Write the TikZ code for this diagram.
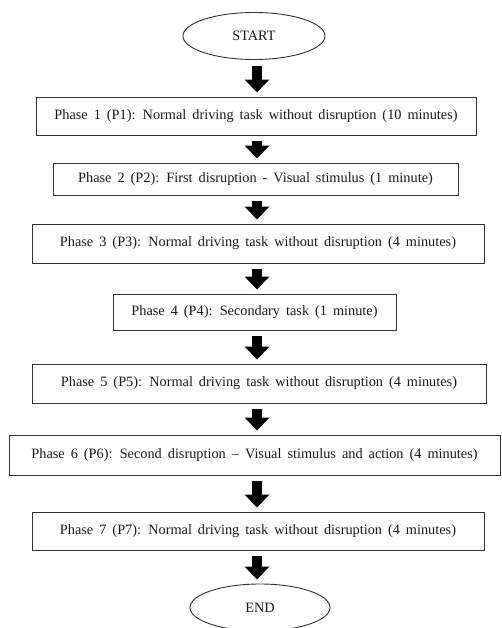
\documentclass[tikz,border=0pt]{standalone}
\usepackage{fontspec}
\setmainfont{Liberation Serif}
\usetikzlibrary{arrows.meta,shapes.geometric}
\newcommand\phasefont{\fontsize{14.3}{17}\selectfont\spaceskip=0.42em plus 0.1em\relax}
\begin{document}
\begin{tikzpicture}[x=1pt,y=-1pt,
  phase/.style={draw=black!80, line width=0.9pt, rectangle, inner sep=0pt, align=center, font=\phasefont, text=black!90},
  term/.style={draw=black!80, line width=0.9pt, ellipse, inner sep=0pt, font=\phasefont, text=black!90},
  blk/.style={line width=10pt, -{Triangle[width=24pt,length=13pt]}, black}
]
\useasboundingbox (0,0) rectangle (501,628);
\coordinate (ax) at (257,0);
\node[term, minimum width=142pt, minimum height=47pt] (start) at (254,36) {START};
\node[phase, minimum width=440pt, minimum height=38pt] (p1) at (256,116) {Phase 1 (P1): Normal driving task without disruption (10 minutes)};
\node[phase, minimum width=405pt, minimum height=32pt] (p2) at (255.5,179) {Phase 2 (P2): First disruption - Visual stimulus (1 minute)};
\node[phase, minimum width=452pt, minimum height=39pt] (p3) at (258,243.5) {Phase 3 (P3): Normal driving task without disruption (4 minutes)};
\node[phase, minimum width=283pt, minimum height=36pt] (p4) at (254.5,312) {Phase 4 (P4): Secondary task (1 minute)};
\node[phase, minimum width=454pt, minimum height=39pt] (p5) at (259,383.5) {Phase 5 (P5): Normal driving task without disruption (4 minutes)};
\node[phase, minimum width=491pt, minimum height=40pt] (p6) at (254.5,455) {Phase 6 (P6): Second disruption -- Visual stimulus and action (4 minutes)};
\node[phase, minimum width=452pt, minimum height=38pt] (p7) at (258,531) {Phase 7 (P7): Normal driving task without disruption (4 minutes)};
\node[term, minimum width=140pt, minimum height=47pt] (end) at (260,607.5) {END};
\foreach \a/\b in {start/p1,p1/p2,p2/p3,p3/p4,p4/p5,p5/p6,p6/p7,p7/end}
  \draw[blk] ([yshift=-6pt]\a.south -| ax) -- ([yshift=4pt]\b.north -| ax);
\end{tikzpicture}
\end{document}
